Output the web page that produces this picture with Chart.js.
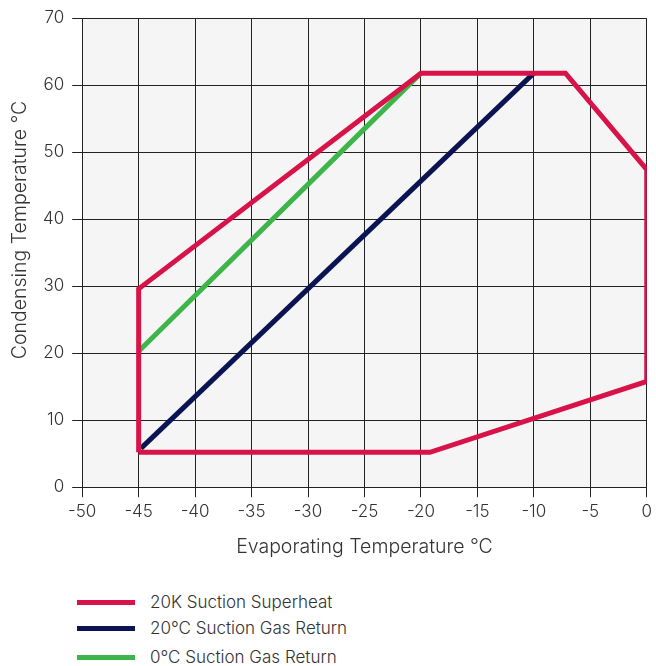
<!DOCTYPE html>
<html>
<head>
<meta charset="utf-8">
<script src="https://cdn.jsdelivr.net/npm/chart.js@4"></script>
<style>
  body { margin: 0; background: #fff; font-family: Inter, sans-serif; overflow: hidden; }
  #wrap { position: relative; width: 656px; height: 563px; }
  #legend { position: absolute; left: 77px; top: 589px; }
  .item { display: flex; align-items: center; height: 26px; font-size: 17px; font-weight: 300; color: #333; }
  .item:last-child { margin-top: 3px; }
  .swatch { width: 58px; height: 5px; margin-right: 15px; }
</style>
</head>
<body>
<div id="wrap"><canvas id="myChart"></canvas></div>
<div id="legend"></div>
<script>
const seriesLabels = ["20K Suction Superheat", "20°C Suction Gas Return", "0°C Suction Gas Return"];
const seriesColors = ["#d8134a", "#0b1452", "#3db54a"];

const superheatX = [-45, -45, -20, -7.2, 0, 0, -19.2, -45];
const superheatY = [5.2, 29.6, 61.8, 61.8, 47.4, 15.8, 5.2, 5.2];
const gas20X = [-44.8, -10];
const gas20Y = [5.8, 61.8];
const gas0X = [-45, -20];
const gas0Y = [20.3, 61.8];

const xTitle = "Evaporating Temperature °C";
const yTitle = "Condensing Temperature °C";

function toPoints(xs, ys) {
  return xs.map((x, i) => ({ x: x, y: ys[i] }));
}

const titleFont = { family: "Inter", size: 19.5, weight: 300 };
const tickFont = { family: "Inter", size: 17, weight: 300 };

const plotBg = {
  id: "plotBg",
  beforeDraw(chart) {
    const a = chart.chartArea;
    const c = chart.ctx;
    c.save();
    c.fillStyle = "#f5f5f5";
    c.fillRect(a.left, a.top, a.right - a.left, a.bottom - a.top);
    c.restore();
  },
  // y title sits a bit above the middle of the axis in the original
  afterDraw(chart) {
    const c = chart.ctx;
    c.save();
    c.translate(20, 230);
    c.rotate(-Math.PI / 2);
    c.font = "300 19.5px Inter";
    c.fillStyle = "#333";
    c.textAlign = "center";
    c.textBaseline = "middle";
    c.fillText(yTitle, 0, 0);
    c.restore();
  },
};

const ctx = document.getElementById("myChart");

const chart = new Chart(ctx, {
  type: "scatter",
  data: {
    datasets: [
      { label: seriesLabels[0], data: toPoints(superheatX, superheatY) },
      { label: seriesLabels[1], data: toPoints(gas20X, gas20Y) },
      { label: seriesLabels[2], data: toPoints(gas0X, gas0Y) },
    ].map((d, i) => ({
      ...d,
      showLine: true,
      borderColor: seriesColors[i],
      backgroundColor: seriesColors[i],
      borderWidth: 5,
      pointRadius: 0,
      borderJoinStyle: "miter",
      fill: false,
      tension: 0,
    })),
  },
  options: {
    responsive: true,
    maintainAspectRatio: false,
    animation: false,
    layout: { padding: { top: 12, right: 0, left: 35, bottom: 0 } },
    plugins: {
      legend: { display: false },
      tooltip: { enabled: false },
    },
    scales: {
      x: {
        type: "linear",
        min: -50,
        max: 0,
        ticks: { stepSize: 5, color: "#333", font: tickFont, padding: 4 },
        grid: { color: "#222", lineWidth: 1, tickLength: 10 },
        border: { color: "#222" },
        title: { display: true, text: xTitle, color: "#333", font: titleFont, padding: { top: 10 } },
      },
      y: {
        min: 0,
        max: 70,
        ticks: { stepSize: 10, color: "#333", font: tickFont, padding: 8 },
        grid: { color: "#222", lineWidth: 1, tickLength: 10 },
        border: { color: "#222" },
        title: { display: false, text: yTitle },
      },
    },
  },
  plugins: [plotBg],
});

const legend = document.getElementById("legend");
chart.data.datasets.forEach((d) => {
  const row = document.createElement("div");
  row.className = "item";
  const sw = document.createElement("span");
  sw.className = "swatch";
  sw.style.background = d.borderColor;
  const tx = document.createElement("span");
  tx.textContent = d.label;
  row.appendChild(sw);
  row.appendChild(tx);
  legend.appendChild(row);
});
</script>
</body>
</html>
